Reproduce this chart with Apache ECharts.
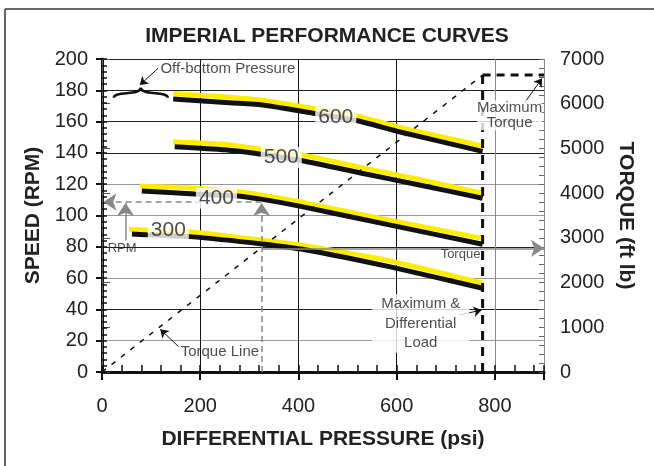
<!DOCTYPE html>
<html>
<head>
<meta charset="utf-8">
<title>Imperial Performance Curves</title>
<script src="https://cdn.jsdelivr.net/npm/echarts@6/dist/echarts.min.js"></script>
<style>
  html, body { margin: 0; padding: 0; background: #fff; }
  #chart { width: 654px; height: 466px; }
</style>
</head>
<body>
<div id="chart"></div>
<script>
// speed curves as [psi, rpm]; yellow is the upper trace, black the lower one
const yellow600 = [[145, 178], [260, 175.5], [330, 173.5], [420, 169], [520, 163.5], [605, 156.5], [775, 144.5]];
const black600 = [[145, 174.5], [260, 172], [330, 170.5], [428, 165.5], [520, 160.5], [605, 153.5], [775, 141]];
const yellow500 = [[145, 147.2], [250, 145.5], [321, 142.5], [408, 138.7], [537, 130], [639, 123.5], [775, 114.2]];
const black500 = [[148, 144], [250, 142], [321, 139.3], [408, 135], [537, 126.5], [639, 120], [775, 111]];
const yellow400 = [[77, 118.8], [189, 117.4], [277, 115.2], [327, 113], [402, 108.8], [585, 97], [775, 85.4]];
const black400 = [[81, 115.7], [189, 113.7], [277, 112.5], [327, 110.3], [402, 106], [585, 94], [775, 81.6]];
const yellow300 = [[55, 91.2], [91, 90.7], [179, 89.7], [326, 84.3], [416, 80.5], [585, 71.1], [775, 56.7]];
const black300 = [[61, 88.2], [91, 87.7], [179, 86.5], [326, 81.8], [416, 78], [585, 67.3], [775, 53.5]];

// torque side, [psi, ft lb]
const torqueLine = [[0, 0], [775, 6640]];
const maxTorque = [[775, 6640], [900, 6640]];
const maxLoad = [[775, 0], [775, 6640]];

const pressureTicks = [0, 200, 400, 600, 800];
const speedTicks = [0, 20, 40, 60, 80, 100, 120, 140, 160, 180, 200];
const torqueTicks = [0, 1000, 2000, 3000, 4000, 5000, 6000, 7000];

// [text, psi, rpm]
const curveLabels = [['600', 476, 163], ['500', 365, 137], ['400', 233, 111], ['300', 135, 90.7]];

// arrows as [from, to] in [psi, rpm]
const blackArrows = [
  [[114, 194], [77, 183.4]],
  [[862, 172.7], [896, 187.6]],
  [[156, 16.2], [118.6, 27.3]],
  [[727, 36.4], [773, 39.6]]
];
const grayDashArrows = [
  [[325, 0], [325, 108]],
  [[325, 108.6], [3, 108.6]]
];
const grayArrows = [
  [[48, 84], [48, 108]],
  [[325, 79], [900, 79]]
];
const bracePoint = [79, 179];

const font = 'Liberation Sans, Arial, sans-serif';

const notes = [
  { value: [118, 194], label: { formatter: 'Off-bottom Pressure', position: 'right', distance: 0, align: 'left' } },
  { value: [830, 164], label: { formatter: 'Maximum\nTorque', backgroundColor: '#fff', lineHeight: 15 } },
  { value: [649, 31], label: { formatter: 'Maximum &\nDifferential\nLoad', backgroundColor: '#fff', lineHeight: 19.5, padding: [0, 9] } },
  { value: [240, 13], label: { formatter: 'Torque Line' } },
  { value: [41, 79.2], label: { formatter: 'RPM', fontSize: 13 } },
  { value: [730, 75], label: { formatter: 'Torque', fontSize: 13 } }
];

function curve(data, color, z) {
  return {
    type: 'line',
    data: data,
    symbol: 'none',
    smooth: 0.2,
    silent: true,
    z: z,
    lineStyle: { color: color, width: 5 }
  };
}

function arrowSeries(list, lineStyle, size) {
  return {
    type: 'line',
    data: [],
    silent: true,
    z: 6,
    markLine: {
      silent: true,
      animation: false,
      symbol: ['none', 'arrow'],
      symbolSize: size,
      label: { show: false },
      lineStyle: lineStyle,
      data: list.map(a => [{ coord: a[0] }, { coord: a[1] }])
    }
  };
}

const chart = echarts.init(document.getElementById('chart'));

chart.setOption({
  animation: false,
  textStyle: { fontFamily: font },
  title: {
    text: 'IMPERIAL PERFORMANCE CURVES',
    left: 'center',
    top: 26,
    padding: 0,
    textStyle: { fontSize: 21, fontWeight: 'bold', color: '#222', fontFamily: font }
  },
  grid: { left: 102, top: 59, right: 110, bottom: 94, containLabel: false, outerBoundsMode: 'none' },
  xAxis: [
    {
      type: 'value',
      position: 'bottom',
      min: 0,
      max: 900,
      interval: 200,
      name: 'DIFFERENTIAL PRESSURE (psi)',
      nameLocation: 'middle',
      nameGap: 57,
      nameTextStyle: { fontSize: 21, fontWeight: 'bold', color: '#222' },
      axisLine: { lineStyle: { color: '#111', width: 3 } },
      axisTick: { length: 8, lineStyle: { color: '#111', width: 2 } },
      axisLabel: {
        fontSize: 20,
        color: '#222',
        margin: 24,
        formatter: v => (pressureTicks.includes(v) ? String(v) : '')
      },
      splitLine: { show: true, lineStyle: { color: ['#000', '#111', '#111', '#111', '#888', '#888'], width: 1 } }
    },
    {
      type: 'value',
      position: 'bottom',
      min: 0,
      max: 900,
      interval: 40,
      axisLine: { show: false },
      axisTick: { inside: true, length: 7, lineStyle: { color: '#111', width: 1.5 } },
      axisLabel: { show: false },
      splitLine: { show: false }
    }
  ],
  yAxis: [
    {
      type: 'value',
      position: 'left',
      min: 0,
      max: 200,
      interval: 20,
      name: 'SPEED (RPM)',
      nameLocation: 'middle',
      nameGap: 55,
      nameTextStyle: { fontSize: 21, fontWeight: 'bold', color: '#222' },
      axisLine: { show: true, lineStyle: { color: '#111', width: 3 } },
      axisTick: { show: true, length: 6, lineStyle: { color: '#111', width: 2 } },
      axisLabel: {
        fontSize: 20,
        color: '#222',
        margin: 14,
        formatter: v => (speedTicks.includes(v) ? String(v) : '')
      },
      splitLine: {
        show: true,
        lineStyle: { color: ['#000', '#999', '#222', '#999', '#222', '#999', '#999', '#222', '#222', '#222', '#222'], width: 1 }
      }
    },
    {
      type: 'value',
      position: 'right',
      min: 0,
      max: 7000,
      interval: 1000,
      name: 'TORQUE (ft lb)',
      nameLocation: 'middle',
      nameRotate: -90,
      nameGap: 69,
      nameTextStyle: { fontSize: 21, fontWeight: 'bold', color: '#222' },
      axisLine: { show: true, lineStyle: { color: '#666', width: 1 } },
      axisTick: { show: true, length: 8, lineStyle: { color: '#555', width: 1 } },
      axisLabel: {
        fontSize: 20,
        color: '#222',
        margin: 16,
        formatter: v => (torqueTicks.includes(v) ? String(v) : '')
      },
      splitLine: { show: false }
    },
    {
      type: 'value',
      position: 'left',
      min: 0,
      max: 200,
      interval: 4,
      axisLine: { show: false },
      axisTick: { show: true, inside: true, length: 5, lineStyle: { color: '#111', width: 1.5 } },
      axisLabel: { show: false },
      splitLine: { show: false }
    },
    {
      type: 'value',
      position: 'right',
      min: 0,
      max: 7000,
      interval: 200,
      axisLine: { show: false },
      axisTick: { show: true, inside: true, length: 5, lineStyle: { color: '#666', width: 1 } },
      axisLabel: { show: false },
      splitLine: { show: false }
    }
  ],
  series: [
    curve(yellow600, '#ffec00', 2),
    curve(yellow500, '#ffec00', 2),
    curve(yellow400, '#ffec00', 2),
    curve(yellow300, '#ffec00', 2),
    curve(black600, '#111', 3),
    curve(black500, '#111', 3),
    curve(black400, '#111', 3),
    curve(black300, '#111', 3),
    {
      type: 'line',
      yAxisIndex: 1,
      data: torqueLine,
      symbol: 'none',
      silent: true,
      z: 4,
      lineStyle: { color: '#111', width: 1.5, type: [5, 7] }
    },
    {
      type: 'line',
      yAxisIndex: 1,
      data: maxTorque,
      symbol: 'none',
      silent: true,
      z: 4,
      lineStyle: { color: '#111', width: 3, type: [8, 6] }
    },
    {
      type: 'line',
      yAxisIndex: 1,
      data: maxLoad,
      symbol: 'none',
      silent: true,
      z: 4,
      lineStyle: { color: '#111', width: 3, type: [9, 7] }
    },
    arrowSeries(blackArrows, { color: '#111', width: 1, type: 'solid' }, 8),
    arrowSeries(grayDashArrows, { color: '#888', width: 1.5, type: [6, 4] }, 13),
    arrowSeries(grayArrows, { color: '#888', width: 1.5, type: 'solid' }, 13),
    {
      type: 'scatter',
      data: curveLabels.map(d => ({ value: [d[1], d[2]], name: d[0] })),
      symbolSize: 1,
      silent: true,
      z: 10,
      itemStyle: { color: 'rgba(0,0,0,0)' },
      label: {
        show: true,
        position: 'inside',
        formatter: p => p.name,
        fontSize: 21,
        color: '#222',
        backgroundColor: '#fff',
        padding: [0, 3]
      }
    },
    {
      type: 'scatter',
      data: notes,
      symbolSize: 1,
      silent: true,
      z: 9,
      itemStyle: { color: 'rgba(0,0,0,0)' },
      label: { show: true, position: 'inside', fontSize: 15, color: '#222', align: 'center' }
    }
  ]
});

// brace under the off-bottom note, and the cropped frame round the figure
const bp = chart.convertToPixel({ xAxisIndex: 0, yAxisIndex: 0 }, bracePoint);
const braceStyle = { fill: 'none', stroke: '#111', lineWidth: 2.5 };
chart.setOption({
  graphic: [
    {
      type: 'group',
      x: bp[0],
      y: bp[1],
      silent: true,
      z: 8,
      children: [
        { type: 'bezierCurve', shape: { x1: -27, y1: 6, cpx1: -27, cpy1: -1, cpx2: 0, cpy2: 4, x2: 0, y2: -4 }, style: braceStyle },
        { type: 'bezierCurve', shape: { x1: 27, y1: 6, cpx1: 27, cpy1: -1, cpx2: 0, cpy2: 4, x2: 0, y2: -4 }, style: braceStyle }
      ]
    },
    { type: 'line', silent: true, shape: { x1: 5, y1: 9, x2: 654, y2: 9 }, style: { stroke: '#333', lineWidth: 1.5 } },
    { type: 'line', silent: true, shape: { x1: 5, y1: 9, x2: 5, y2: 466 }, style: { stroke: '#333', lineWidth: 1.5 } }
  ]
});
</script>
</body>
</html>
